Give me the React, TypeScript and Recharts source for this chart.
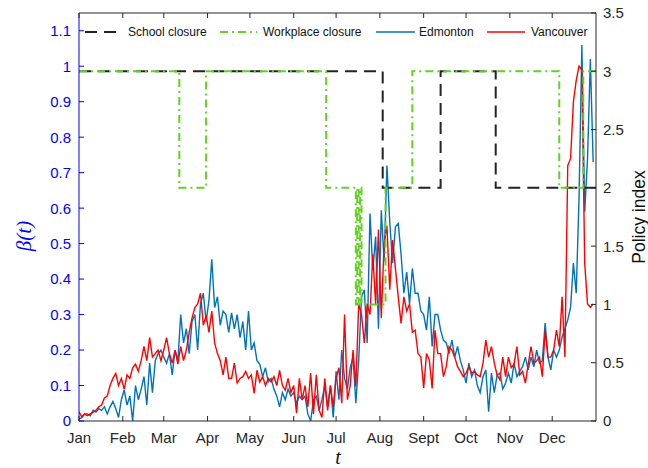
import React from "react";
import { LineChart, Line, XAxis, YAxis } from "recharts";

// month starts (day of year, 2020) and their labels
const monthDays = [0, 31, 60, 91, 121, 152, 182, 213, 244, 274, 305, 335];
const monthLabels = ["Jan", "Feb", "Mar", "Apr", "May", "Jun", "Jul", "Aug", "Sept", "Oct", "Nov", "Dec"];
const betaTicks = [0, 0.1, 0.2, 0.3, 0.4, 0.5, 0.6, 0.7, 0.8, 0.9, 1, 1.1];
const policyTicks = [0, 0.5, 1, 1.5, 2, 2.5, 3, 3.5];

// beta(t) sampled every 2 days from Jan 1
const edmonton = [
  0.005, 0.01, 0.02, 0.02, 0.015, 0.03, 0.025, 0.035, 0.03, 0.04,
  0.02, 0.04, 0.055, 0.035, 0.01, 0.06, 0.088, 0.045, 0.07, 0.0,
  0.1, 0.06, 0.09, 0.125, 0.045, 0.163, 0.08, 0.17, 0.19, 0.2,
  0.18, 0.163, 0.19, 0.13, 0.2, 0.17, 0.3, 0.22, 0.26, 0.19,
  0.28, 0.3, 0.2, 0.33, 0.36, 0.28, 0.34, 0.456, 0.32, 0.35,
  0.27, 0.31, 0.3, 0.25, 0.305, 0.26, 0.3, 0.235, 0.28, 0.2,
  0.31, 0.2, 0.22, 0.17, 0.16, 0.125, 0.15, 0.11, 0.12, 0.09,
  0.07, 0.04, 0.08, 0.06, 0.09, 0.07, 0.08, 0.05, 0.07, 0.06,
  0.07, 0.02, 0.0, 0.06, 0.07, 0.03, 0.06, 0.1, 0.04, 0.1,
  0.01, 0.14, 0.06, 0.2, 0.12, 0.09, 0.15, 0.18, 0.05, 0.17,
  0.35, 0.37, 0.22, 0.585, 0.425, 0.52, 0.26, 0.594, 0.45, 0.72,
  0.56, 0.445, 0.547, 0.557, 0.47, 0.36, 0.42, 0.33, 0.43, 0.36,
  0.36, 0.31, 0.3, 0.256, 0.35, 0.21, 0.3, 0.3, 0.256, 0.228,
  0.22, 0.19, 0.228, 0.18, 0.21, 0.17, 0.144, 0.107, 0.163, 0.125,
  0.144, 0.1, 0.08, 0.125, 0.144, 0.026, 0.135, 0.08, 0.13, 0.135,
  0.09, 0.107, 0.135, 0.107, 0.163, 0.125, 0.14, 0.153, 0.18, 0.144,
  0.18, 0.153, 0.2, 0.163, 0.17, 0.276, 0.18, 0.144, 0.2, 0.18,
  0.2, 0.237, 0.26, 0.285, 0.32, 0.445, 0.36, 0.63, 1.06, 0.59,
  0.74, 1.02, 0.73,
];
const vancouver = [
  0.026, 0.012, 0.02, 0.015, 0.02, 0.025, 0.03, 0.04, 0.045, 0.065,
  0.07, 0.1, 0.12, 0.134, 0.1, 0.12, 0.09, 0.13, 0.12, 0.15,
  0.16, 0.14, 0.17, 0.21, 0.17, 0.235, 0.18, 0.19, 0.2, 0.17,
  0.2, 0.235, 0.19, 0.163, 0.2, 0.16, 0.21, 0.17, 0.2, 0.25,
  0.29, 0.32, 0.33, 0.36, 0.27, 0.297, 0.25, 0.31, 0.22, 0.19,
  0.17, 0.13, 0.18, 0.12, 0.12, 0.163, 0.107, 0.12, 0.125, 0.14,
  0.12, 0.13, 0.078, 0.143, 0.11, 0.125, 0.1, 0.12, 0.11, 0.125,
  0.1, 0.143, 0.1, 0.087, 0.12, 0.08, 0.1, 0.022, 0.12, 0.06,
  0.1, 0.04, 0.135, 0.02, 0.13, 0.03, 0.01, 0.12, 0.03, 0.1,
  0.04, 0.12, 0.15, 0.05, 0.3, 0.06, 0.1, 0.2, 0.097, 0.33,
  0.3, 0.22, 0.33, 0.3, 0.47, 0.33, 0.54, 0.29, 0.5, 0.55,
  0.37, 0.51, 0.43, 0.35, 0.275, 0.35, 0.31, 0.33, 0.25, 0.256,
  0.19, 0.18, 0.093, 0.19, 0.172, 0.092, 0.256, 0.19, 0.19, 0.125,
  0.153, 0.21, 0.2, 0.18, 0.153, 0.14, 0.125, 0.135, 0.153, 0.135,
  0.14, 0.13, 0.125, 0.163, 0.228, 0.18, 0.21, 0.163, 0.13, 0.116,
  0.18, 0.125, 0.18, 0.15, 0.16, 0.21, 0.13, 0.14, 0.107, 0.16,
  0.21, 0.163, 0.17, 0.18, 0.125, 0.256, 0.18, 0.18, 0.2, 0.256,
  0.21, 0.35, 0.18, 0.72, 0.74, 0.9, 0.96, 1.0, 0.99, 0.445,
  0.33, 0.32, 0.33,
];

// policy index step changes (day of year -> level)
const schoolDays = [0, 215, 256, 295, 366];
const schoolLevel = [3, 2, 3, 2, 2];
const workDays = [0, 71, 90, 175, 196, 197, 198, 199, 200, 217, 236, 340, 357, 366];
const workLevel = [3, 2, 3, 2, 1, 2, 1, 2, 1, 2, 3, 2, 3, 3];

const betaData = edmonton.map((v, i) => ({ day: i * 2, edmonton: v, vancouver: vancouver[i] }));
const schoolData = schoolDays.map((d, i) => ({ day: d, level: schoolLevel[i] }));
const workData = workDays.map((d, i) => ({ day: d, level: workLevel[i] }));

const SANS = "'Liberation Sans', Arial, sans-serif";
const SERIF = "'Liberation Serif', 'DejaVu Serif', serif";
const DARK = "#262626";
const BLUE_AXIS = "#0000ff";
const EDM = "#0072BD";
const VAN = "#ff0000";
const GREEN = "#62d11f";
const TICK = 5;

const BottomTick = (props: any) => {
  const { x, y, payload } = props;
  const label = monthLabels[monthDays.indexOf(payload.value)];
  return (
    <g>
      <line x1={x} y1={y} x2={x} y2={y - TICK} stroke={DARK} strokeWidth={1} />
      <text x={x} y={y + 22} textAnchor="middle" fontSize={15} fontFamily={SANS} fill={DARK}>
        {label}
      </text>
    </g>
  );
};

const TopTick = (props: any) => {
  const { x, y } = props;
  return <line x1={x} y1={y} x2={x} y2={y + TICK} stroke={DARK} strokeWidth={1} />;
};

const LeftTick = (props: any) => {
  const { x, y, payload } = props;
  return (
    <g>
      <line x1={x} y1={y} x2={x + TICK} y2={y} stroke={BLUE_AXIS} strokeWidth={1} />
      <text x={x - 8} y={y} dy="0.36em" textAnchor="end" fontSize={15} fontFamily={SANS} fill={BLUE_AXIS}>
        {payload.value}
      </text>
    </g>
  );
};

const RightTick = (props: any) => {
  const { x, y, payload } = props;
  return (
    <g>
      <line x1={x} y1={y} x2={x - TICK} y2={y} stroke={DARK} strokeWidth={1} />
      <text x={x + 7} y={y} dy="0.36em" textAnchor="start" fontSize={15} fontFamily={SANS} fill={DARK}>
        {payload.value}
      </text>
    </g>
  );
};

function LegendOverlay() {
  const y = 32;
  const items = [
    { x: 85, w: 34, tx: 128, label: "School closure", stroke: "#222", dash: "12 7", sw: 2 },
    { x: 220, w: 37, tx: 263, label: "Workplace closure", stroke: GREEN, dash: "8 4 2 4", sw: 2 },
    { x: 376, w: 39, tx: 419, label: "Edmonton", stroke: EDM, dash: undefined, sw: 1.4 },
    { x: 487, w: 38, tx: 531, label: "Vancouver", stroke: VAN, dash: undefined, sw: 1.4 },
  ];
  return (
    <svg width={648} height={468} style={{ position: "absolute", left: 0, top: 0, pointerEvents: "none" }}>
      {items.map((it) => (
        <g key={it.label}>
          <line x1={it.x} y1={y} x2={it.x + it.w} y2={y} stroke={it.stroke} strokeWidth={it.sw} strokeDasharray={it.dash} />
          <text x={it.tx} y={y} dy="0.36em" fontSize={12} fontFamily={SANS} fill="#111">
            {it.label}
          </text>
        </g>
      ))}
      <text
        transform="translate(31 236) rotate(-90)"
        textAnchor="middle"
        fontSize={21}
        fontStyle="italic"
        fontFamily={SERIF}
        fill={BLUE_AXIS}
      >
        β(t)
      </text>
      <text
        transform="translate(645 217) rotate(-90)"
        textAnchor="middle"
        fontSize={17.5}
        fontFamily={SANS}
        fill="#111"
      >
        Policy index
      </text>
      <text x={338} y={464} textAnchor="middle" fontSize={20} fontStyle="italic" fontFamily={SERIF} fill="#111">
        t
      </text>
    </svg>
  );
}

export default function App() {
  return (
    <div style={{ position: "absolute", left: 0, top: 0, width: 648, height: 468, background: "#fff" }}>
      <LineChart width={648} height={468} margin={{ top: 0, right: 0, bottom: 0, left: 0 }}>
        <XAxis
          xAxisId="b"
          type="number"
          dataKey="day"
          domain={[0, 366]}
          ticks={monthDays}
          interval={0}
          orientation="bottom"
          height={47}
          tickSize={0}
          tickMargin={0}
          tickLine={false}
          tick={BottomTick}
          stroke={DARK}
          allowDataOverflow
        />
        <XAxis
          xAxisId="t"
          type="number"
          dataKey="day"
          domain={[0, 366]}
          ticks={monthDays}
          interval={0}
          orientation="top"
          height={13}
          tickSize={0}
          tickMargin={0}
          tickLine={false}
          tick={TopTick}
          stroke={DARK}
          allowDataOverflow
        />
        <YAxis
          yAxisId="beta"
          orientation="left"
          width={79}
          domain={[0, 1.15]}
          ticks={betaTicks}
          interval={0}
          tickSize={0}
          tickMargin={0}
          tickLine={false}
          tick={LeftTick}
          stroke={BLUE_AXIS}
          allowDataOverflow
        />
        <YAxis
          yAxisId="policy"
          orientation="right"
          width={52}
          domain={[0, 3.5]}
          ticks={policyTicks}
          interval={0}
          tickSize={0}
          tickMargin={0}
          tickLine={false}
          tick={RightTick}
          stroke={DARK}
          allowDataOverflow
        />
        <Line
          xAxisId="b"
          yAxisId="beta"
          data={betaData}
          dataKey="edmonton"
          type="linear"
          stroke={EDM}
          strokeWidth={1.4}
          dot={false}
          isAnimationActive={false}
        />
        <Line
          xAxisId="b"
          yAxisId="beta"
          data={betaData}
          dataKey="vancouver"
          type="linear"
          stroke={VAN}
          strokeWidth={1.4}
          dot={false}
          isAnimationActive={false}
        />
        <Line
          xAxisId="b"
          yAxisId="policy"
          data={schoolData}
          dataKey="level"
          type="stepAfter"
          stroke="#222"
          strokeWidth={2}
          strokeDasharray="12 7"
          dot={false}
          isAnimationActive={false}
        />
        <Line
          xAxisId="b"
          yAxisId="policy"
          data={workData}
          dataKey="level"
          type="stepAfter"
          stroke={GREEN}
          strokeWidth={2}
          strokeDasharray="8 4 2 4"
          dot={false}
          isAnimationActive={false}
        />
      </LineChart>
      <LegendOverlay />
    </div>
  );
}
